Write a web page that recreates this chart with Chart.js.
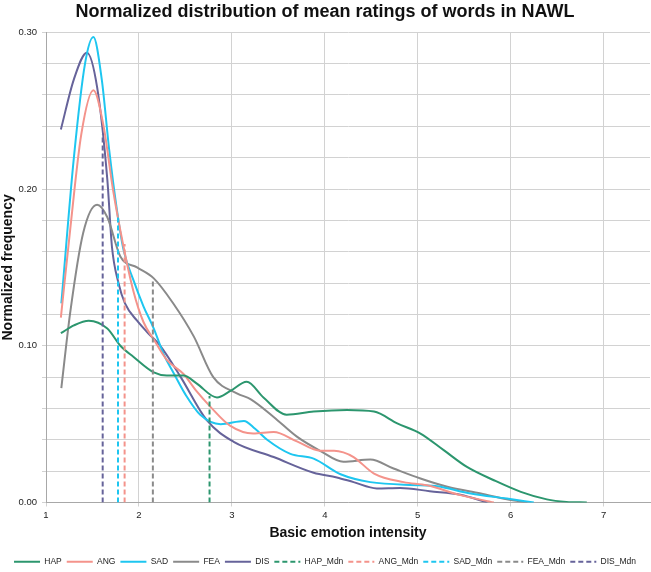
<!DOCTYPE html>
<html>
<head>
<meta charset="utf-8">
<title>NAWL ratings</title>
<script src="https://cdn.jsdelivr.net/npm/chart.js@4.4.1/dist/chart.umd.min.js"></script>
<style>
  html, body { margin: 0; padding: 0; background: #fff; }
  #wrap { width: 651px; height: 572px; }
</style>
</head>
<body>
<div id="wrap"><canvas id="myChart" width="651" height="572"></canvas></div>
<script>
// values (x = intensity, y = normalized frequency)
const hapX = [1.16, 1.30, 1.46, 1.66, 1.80, 1.94, 2.16, 2.30, 2.48, 2.62, 2.84, 2.98, 3.16, 3.34, 3.59, 3.88, 4.24, 4.53, 4.78, 5.03, 5.28, 5.53, 5.82, 6.11, 6.39, 6.60, 6.82];
const hapY = [0.108, 0.113, 0.116, 0.111, 0.100, 0.093, 0.083, 0.081, 0.081, 0.076, 0.067, 0.071, 0.077, 0.067, 0.056, 0.058, 0.059, 0.058, 0.0505, 0.044, 0.0334, 0.0227, 0.0142, 0.0068, 0.002, 0.0004, 0.0];

const angX = [1.16, 1.26, 1.38, 1.51, 1.62, 1.72, 1.835, 1.94, 2.05, 2.16, 2.30, 2.48, 2.62, 2.77, 2.98, 3.23, 3.45, 3.70, 3.95, 4.10, 4.20, 4.31, 4.53, 4.85, 5.10, 5.46, 5.82];
const angY = [0.118, 0.174, 0.235, 0.263, 0.240, 0.200, 0.163, 0.135, 0.115, 0.104, 0.091, 0.082, 0.071, 0.061, 0.049, 0.044, 0.045, 0.039, 0.033, 0.033, 0.032, 0.029, 0.0185, 0.013, 0.011, 0.0047, 0.0];

const sadX = [1.165, 1.30, 1.42, 1.51, 1.60, 1.68, 1.76, 1.835, 1.94, 2.05, 2.16, 2.27, 2.37, 2.50, 2.66, 2.88, 3.13, 3.25, 3.38, 3.63, 3.88, 4.17, 4.49, 5.03, 5.21, 5.57, 5.96, 6.25];
const sadY = [0.127, 0.220, 0.280, 0.297, 0.270, 0.225, 0.188, 0.161, 0.142, 0.125, 0.111, 0.094, 0.083, 0.069, 0.056, 0.050, 0.052, 0.047, 0.040, 0.031, 0.028, 0.018, 0.013, 0.011, 0.0104, 0.0057, 0.0025, 0.0];

const feaX = [1.165, 1.26, 1.40, 1.55, 1.66, 1.80, 1.98, 2.16, 2.37, 2.59, 2.80, 3.06, 3.20, 3.45, 3.70, 3.95, 4.20, 4.49, 4.74, 5.03, 5.32, 5.68, 5.96, 6.18];
const feaY = [0.073, 0.121, 0.172, 0.190, 0.182, 0.157, 0.150, 0.143, 0.127, 0.106, 0.080, 0.0695, 0.066, 0.0546, 0.042, 0.033, 0.026, 0.0274, 0.0217, 0.0153, 0.010, 0.0057, 0.002, 0.0];

const disX = [1.16, 1.30, 1.44, 1.55, 1.66, 1.71, 1.78, 1.85, 1.98, 2.10, 2.23, 2.45, 2.73, 3.02, 3.45, 3.88, 4.13, 4.31, 4.56, 4.81, 5.13, 5.46, 5.75];
const disY = [0.238, 0.270, 0.287, 0.265, 0.206, 0.163, 0.140, 0.127, 0.116, 0.108, 0.100, 0.080, 0.0525, 0.0387, 0.029, 0.019, 0.016, 0.013, 0.009, 0.0093, 0.0072, 0.005, 0.0];

const seriesNames = ['HAP', 'ANG', 'SAD', 'FEA', 'DIS'];
const seriesColors = ['#2c966e', '#f4938b', '#1ec6f0', '#8a8a8a', '#66639a'];
const medianX = [2.76, 1.846, 1.775, 2.15, 1.61];
const medianTop = [0.068, 0.165, 0.182, 0.142, 0.235];

const xTickLabels = [1, 2, 3, 4, 5, 6, 7];
const yTickLabels = [0, 0.1, 0.2, 0.3];

const FONT = '"Liberation Sans", Arial, sans-serif';

function toPoints(xs, ys) {
    return xs.map((x, i) => ({ x: x, y: ys[i] }));
}

const curves = [[hapX, hapY], [angX, angY], [sadX, sadY], [feaX, feaY], [disX, disY]];

const datasets = [];
curves.forEach((c, i) => {
    datasets.push({
        label: seriesNames[i],
        data: toPoints(c[0], c[1]),
        borderColor: seriesColors[i],
        backgroundColor: seriesColors[i],
        borderWidth: 2,
        pointRadius: 0,
        cubicInterpolationMode: 'monotone',
        order: 1
    });
});
medianX.forEach((m, i) => {
    datasets.push({
        label: seriesNames[i] + '_Mdn',
        data: [{ x: m, y: 0 }, { x: m, y: medianTop[i] }],
        borderColor: seriesColors[i],
        backgroundColor: seriesColors[i],
        borderWidth: 2,
        borderDash: [5, 3],
        pointRadius: 0,
        tension: 0,
        order: 0
    });
});

// legend items keep the dataset's dash pattern
function legendLabels(chart) {
    const items = Chart.defaults.plugins.legend.labels.generateLabels(chart);
    items.forEach(item => {
        item.lineDash = chart.data.datasets[item.datasetIndex].borderDash || [];
    });
    return items;
}

const myChart = new Chart(document.getElementById('myChart'), {
    type: 'line',
    data: { datasets: datasets },
    options: {
        responsive: false,
        animation: false,
        devicePixelRatio: 1,
        layout: { padding: { left: 0, right: 1, top: 0, bottom: -4 } },
        plugins: {
            tooltip: { enabled: false },
            title: {
                display: true,
                text: 'Normalized distribution of mean ratings of words in NAWL',
                color: '#111',
                font: { family: FONT, size: 18, weight: 'bold' },
                padding: { top: 1, bottom: 9.7 }
            },
            legend: {
                position: 'bottom',
                labels: {
                    usePointStyle: true,
                    pointStyle: 'line',
                    pointStyleWidth: 26,
                    padding: 5,
                    color: '#222',
                    font: { family: FONT, size: 8.5 },
                    generateLabels: legendLabels,
                    sort: (a, b) => a.datasetIndex - b.datasetIndex
                }
            }
        },
        scales: {
            x: {
                type: 'linear',
                min: 1,
                max: 7.5,
                afterFit: (scale) => { scale.height = 50; },
                ticks: {
                    stepSize: 1,
                    includeBounds: false,
                    padding: 3,
                    color: '#222',
                    font: { family: FONT, size: 9.5 },
                    callback: (v) => xTickLabels.includes(v) ? String(v) : ''
                },
                grid: { color: '#d2d2d2', lineWidth: 1, tickLength: 4 },
                border: { color: '#a8a8a8', width: 1 },
                title: {
                    display: true,
                    text: 'Basic emotion intensity',
                    color: '#111',
                    font: { family: FONT, size: 14, weight: 'bold' },
                    padding: { top: 0, bottom: 10.5 }
                }
            },
            y: {
                min: 0,
                max: 0.3,
                afterFit: (scale) => { scale.width = 46; },
                ticks: {
                    stepSize: 0.02,
                    autoSkip: false,
                    padding: 5,
                    color: '#222',
                    font: { family: FONT, size: 9.5 },
                    callback: function (value) {
                        const hit = yTickLabels.some(t => Math.abs(t - value) < 1e-6);
                        return hit ? value.toFixed(2) : '';
                    }
                },
                grid: { color: '#d2d2d2', lineWidth: 1, tickLength: 4 },
                border: { color: '#a8a8a8', width: 1 },
                title: {
                    display: true,
                    text: 'Normalized frequency',
                    color: '#111',
                    font: { family: FONT, size: 14, weight: 'bold' },
                    padding: { top: 0, bottom: 0 }
                }
            }
        }
    }
});
</script>
</body>
</html>
